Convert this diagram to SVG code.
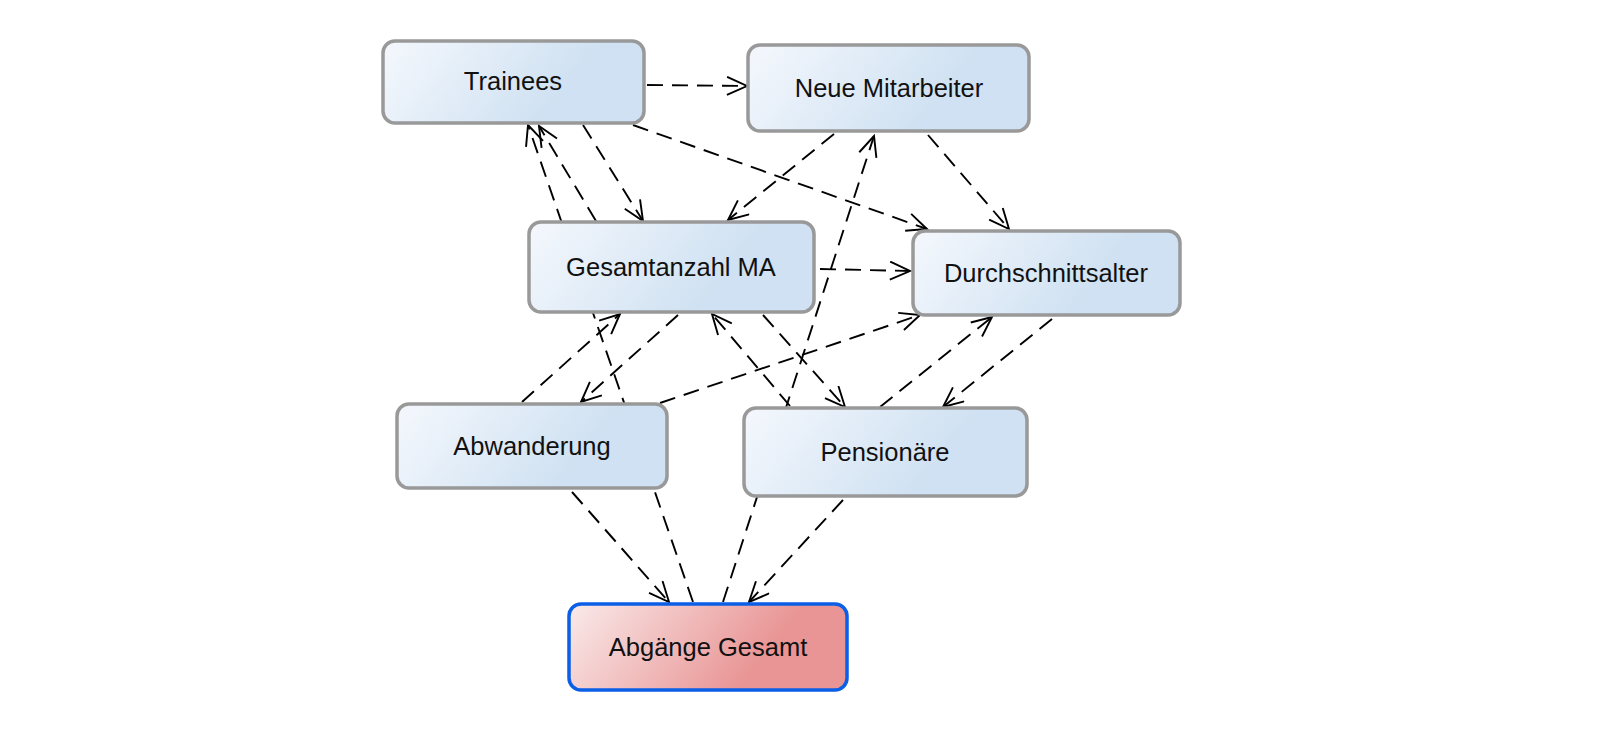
<svg xmlns="http://www.w3.org/2000/svg" width="1600" height="736" viewBox="0 0 1600 736">
<style>
.node rect{stroke:#999999;stroke-width:3.5;fill:url(#gBlue)}
#abgaenge rect{stroke:#0a5fe6;stroke-width:3.5;fill:url(#gRed)}
.node text{font-family:"Liberation Sans",Arial,sans-serif;font-size:25.5px;fill:#111111;text-anchor:middle;dominant-baseline:central}
#edges line{stroke:#000;stroke-width:1.9;stroke-dasharray:16 9;fill:none;marker-end:url(#arr)}
</style>
<defs>
<linearGradient id="gBlue" x1="0" y1="0" x2="1" y2="0.25">
<stop offset="0" stop-color="#f5f8fd"/>
<stop offset="0.8" stop-color="#cfe1f2"/>
<stop offset="1" stop-color="#cfe1f2"/>
</linearGradient>
<linearGradient id="gRed" x1="0" y1="0" x2="1" y2="0.25">
<stop offset="0" stop-color="#faeaea"/>
<stop offset="0.8" stop-color="#e99595"/>
<stop offset="1" stop-color="#e99595"/>
</linearGradient>
<marker id="arr" markerUnits="userSpaceOnUse" markerWidth="26" markerHeight="22" refX="21" refY="10" orient="auto" viewBox="0 0 26 22">
<path d="M1,1 L21,10 L1,19" fill="none" stroke="#000" stroke-width="1.9" stroke-dasharray="none"/>
</marker>
</defs>
<g id="edges">
<line x1="647" y1="85" x2="747" y2="86"/>
<line x1="583" y1="125" x2="643" y2="221"/>
<line x1="633" y1="125" x2="927" y2="229"/>
<line x1="596" y1="221" x2="539" y2="126"/>
<line x1="693" y1="602" x2="528" y2="125"/>
<line x1="834" y1="134" x2="728" y2="220"/>
<line x1="928" y1="135" x2="1009" y2="229"/>
<line x1="723" y1="602" x2="874" y2="136"/>
<line x1="820" y1="269" x2="910" y2="271"/>
<line x1="522" y1="402" x2="620" y2="314"/>
<line x1="678" y1="315" x2="581" y2="402"/>
<line x1="660" y1="403" x2="920" y2="315"/>
<line x1="763" y1="315" x2="845" y2="407"/>
<line x1="790" y1="406" x2="712" y2="314"/>
<line x1="880" y1="407" x2="992" y2="317"/>
<line x1="1052" y1="319" x2="943" y2="407"/>
<line x1="572" y1="492" x2="669" y2="602"/>
<line x1="843" y1="500" x2="749" y2="602"/>
</g>
<g id="trainees" class="node"><rect x="383" y="41" width="261" height="82" rx="12"/><text x="513" y="81">Trainees</text></g>
<g id="neue" class="node"><rect x="748" y="45" width="281" height="86" rx="12"/><text x="889" y="88">Neue Mitarbeiter</text></g>
<g id="gesamtanzahl" class="node"><rect x="529" y="222" width="285" height="90" rx="12"/><text x="671" y="267">Gesamtanzahl MA</text></g>
<g id="durchschnitt" class="node"><rect x="913" y="231" width="267" height="84" rx="12"/><text x="1046" y="273">Durchschnittsalter</text></g>
<g id="abwanderung" class="node"><rect x="397" y="404" width="270" height="84" rx="12"/><text x="532" y="446">Abwanderung</text></g>
<g id="pensionaere" class="node"><rect x="744" y="408" width="283" height="88" rx="12"/><text x="885" y="452">Pensionäre</text></g>
<g id="abgaenge" class="node"><rect x="569" y="604" width="278" height="86" rx="12"/><text x="708" y="647">Abgänge Gesamt</text></g>
</svg>
